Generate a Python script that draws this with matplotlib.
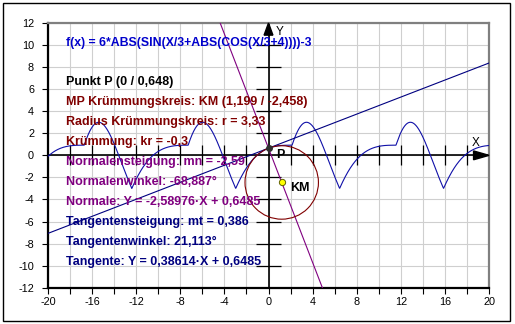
import numpy as np
import matplotlib
matplotlib.use("Agg")
import matplotlib.pyplot as plt
from matplotlib.patches import Circle, Polygon, Rectangle

# Daten aus dem Bild
x_range = (-20, 20)
y_range = (-12, 12)
x_ticks = list(range(-20, 21, 2))
x_labels = [str(t) if t % 4 == 0 else "" for t in x_ticks]
y_ticks = list(range(-12, 13, 2))

# f(x) = 6*ABS(SIN(X/3+ABS(COS(X/3+4))))-3  (Formel aus dem Bild)
f_amp, f_div, f_shift, f_off = 6, 3, 4, 3

punkt_p = (0, 0.648)
km = (1.199, -2.458)
radius = 3.33
m_tangente, b_tangente = 0.38614, 0.6485
m_normale, b_normale = -2.58976, 0.6485

titel = "f(x) = 6*ABS(SIN(X/3+ABS(COS(X/3+4))))-3"
zeilen = [
    ("Punkt P (0 / 0,648)", "black"),
    ("MP Krümmungskreis: KM (1,199 / -2,458)", "#800000"),
    ("Radius Krümmungskreis: r = 3,33", "#800000"),
    ("Krümmung: kr = -0,3", "#800000"),
    ("Normalensteigung: mn = -2,59", "#800080"),
    ("Normalenwinkel: -68,887°", "#800080"),
    ("Normale: Y = -2,58976·X + 0,6485", "#800080"),
    ("Tangentensteigung: mt = 0,386", "#000080"),
    ("Tangentenwinkel: 21,113°", "#000080"),
    ("Tangente: Y = 0,38614·X + 0,6485", "#000080"),
]

plt.rcParams['font.family'] = ['Liberation Sans', 'DejaVu Sans']
plt.rcParams['axes.unicode_minus'] = False

fig = plt.figure(figsize=(5.15, 3.24), dpi=100)
fig.patch.set_facecolor('white')
fig.patches.append(Rectangle((3 / 515, 3 / 324), 507 / 515, 318 / 324, transform=fig.transFigure,
                             fill=False, edgecolor='black', linewidth=1.0))

ax = fig.add_axes([48 / 515, 36.3 / 324, 441 / 515, 264.7 / 324])
ax.set_xlim(*x_range)
ax.set_ylim(*y_range)

# Gitter
ax.set_xticks(x_ticks)
ax.set_xticklabels(x_labels)
ax.set_yticks(y_ticks)
ax.grid(True, color='#cfcfcf', linewidth=0.8, zorder=0)
ax.tick_params(direction='out', length=4, width=0.8, color='black', labelsize=7.8, pad=6)
ax.tick_params(axis='x', pad=3)

for side in ['left', 'bottom']:
    ax.spines[side].set_color('black')
    ax.spines[side].set_linewidth(1.6)
for side in ['top', 'right']:
    ax.spines[side].set_color('#808080')
    ax.spines[side].set_linewidth(1.6)

# Koordinatenachsen mit Strichen
ax.axhline(0, color='black', linewidth=1.2, zorder=2)
ax.axvline(0, color='black', linewidth=1.2, zorder=2)
ax.vlines([t for t in x_ticks if t not in (0, x_range[0], x_range[1])], -0.9, 0.9,
          color='black', linewidth=0.9, zorder=2)
ax.hlines([t for t in y_ticks if t not in (0, y_range[0], y_range[1])], -1.1, 1.1,
          color='black', linewidth=0.9, zorder=2)
ax.add_patch(Polygon([(x_range[1], 0), (x_range[1] - 1.4, 0.4), (x_range[1] - 1.4, -0.4)],
                     closed=True, color='black', zorder=3, clip_on=False))
ax.add_patch(Polygon([(0, y_range[1]), (-0.4, y_range[1] - 1.1), (0.4, y_range[1] - 1.1)],
                     closed=True, color='black', zorder=3, clip_on=False))
ax.text(18.75, 1.15, "X", fontsize=8.5, ha='center', va='center', zorder=4)
ax.text(1.05, 11.2, "Y", fontsize=8.5, ha='center', va='center', zorder=4)

# Funktion, Tangente, Normale, Kruemmungskreis
xs = np.linspace(x_range[0], x_range[1], 2001)
ys = f_amp * np.abs(np.sin(xs / f_div + np.abs(np.cos(xs / f_div + f_shift)))) - f_off
ax.plot(xs, ys, color='#1010a8', linewidth=0.8, zorder=3)
ax.plot(xs, m_tangente * xs + b_tangente, color='#000080', linewidth=0.8, zorder=3)
ax.plot(xs, m_normale * xs + b_normale, color='#800080', linewidth=0.8, zorder=3)
ax.add_patch(Circle(km, radius, fill=False, edgecolor='#800000', linewidth=0.8, zorder=3))

ax.plot(*punkt_p, 'o', markersize=4, color='#303030', zorder=5)
ax.plot(*km, 'o', markersize=4.5, markerfacecolor='#ffff00', markeredgecolor='#606000',
        markeredgewidth=0.7, zorder=5)
ax.text(1.05, 0.0, "P", fontsize=9, fontweight='bold', ha='center', va='center', zorder=6)
ax.text(1.95, -3.0, "KM", fontsize=9, fontweight='bold', ha='left', va='center', zorder=6)

# Textblock
ax.text(-18.4, 10.18, titel, color='#0000cc', fontsize=8.8, fontweight='bold', va='center', zorder=6)
for i, (txt, col) in enumerate(zeilen):
    y_px = 82 + 20 * i
    ax.text(-18.4, (155.3 - y_px) / 11.03, txt, color=col, fontsize=9, fontweight='bold',
            va='center', zorder=6)

fig.savefig("out.png", dpi=100)
